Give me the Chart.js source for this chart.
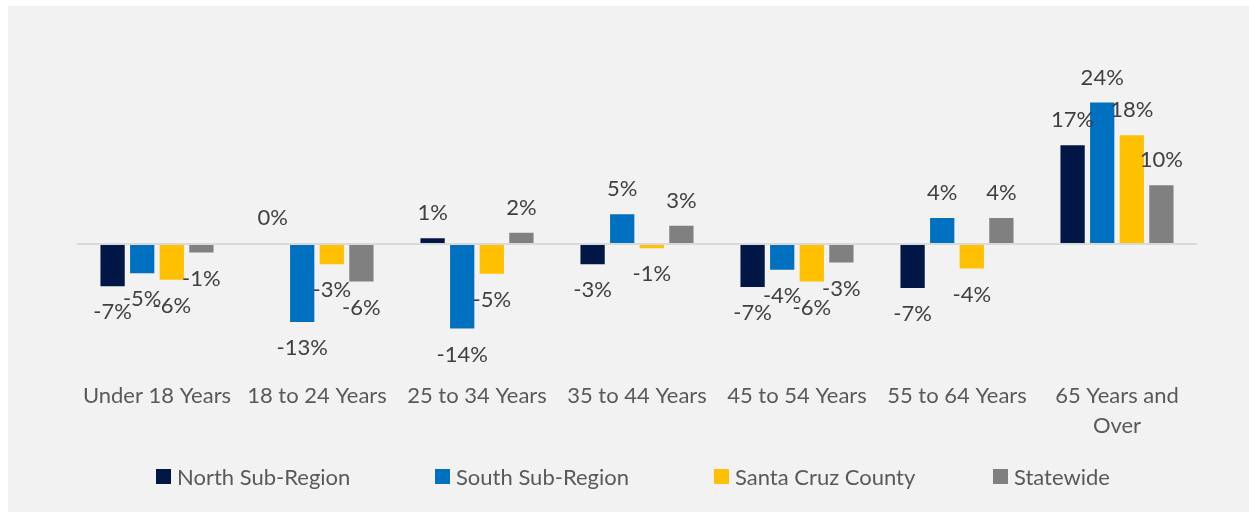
<!DOCTYPE html>
<html>
<head>
  <meta charset="UTF-8" />
  <title>Population Change by Age Group</title>
  <style>
    html, body { margin: 0; padding: 0; background: #ffffff; }
    #wrap {
      position: absolute; left: 8px; top: 6px;
      width: 1241px; height: 506px;
      background: #f2f2f2;
    }
    #chartBox { position: absolute; left: 0; top: 0; width: 1241px; height: 506px; }
    #legend {
      position: absolute; left: 148px; top: 458px;
      display: flex; margin: 0; padding: 0; list-style: none;
      font-family: Lato, 'Open Sans', sans-serif; font-size: 22px; color: #595959;
    }
    #legend li { display: flex; align-items: center; width: 279px; height: 24px; }
    #legend li span { display: inline-block; width: 15px; height: 15px; margin-right: 6px; }
  </style>
</head>
<body>
  <div id="wrap">
    <div id="chartBox"><canvas id="ageChart"></canvas></div>
    <ul id="legend"></ul>
  </div>
  <script src="https://cdn.jsdelivr.net/npm/chart.js"></script>
  <script>
    // categories and series (% change)
    const categories = ['Under 18 Years', '18 to 24 Years', '25 to 34 Years', '35 to 44 Years',
      '45 to 54 Years', '55 to 64 Years', ['65 Years and', 'Over']];
    const northSubRegion = [-7.1, 0.2, 1.0, -3.4, -7.2, -7.4, 16.6];
    const southSubRegion = [-4.9, -13.1, -14.2, 5.0, -4.3, 4.4, 23.8];
    const santaCruzCounty = [-6.0, -3.4, -5.0, -0.7, -6.3, -4.1, 18.3];
    const statewide = [-1.4, -6.3, 1.9, 3.1, -3.1, 4.4, 9.9];

    const FONT = "Lato, 'Open Sans', sans-serif";

    // draws "x%" labels just beyond each bar end
    const barLabels = {
      id: 'barLabels',
      afterDatasetsDraw(chart) {
        const ctx = chart.ctx;
        ctx.save();
        ctx.font = '22px ' + FONT;
        ctx.fillStyle = '#404040';
        ctx.textAlign = 'center';
        ctx.textBaseline = 'middle';
        chart.data.datasets.forEach((ds, i) => {
          const meta = chart.getDatasetMeta(i);
          meta.data.forEach((bar, j) => {
            const v = ds.data[j];
            const y = v >= 0 ? bar.y - 25 : bar.y + 26;
            ctx.fillText(Math.round(v) + '%', bar.x, y);
          });
        });
        ctx.restore();
      }
    };

    // legend built from the chart's own legend items, laid out wide like the original
    const htmlLegend = {
      id: 'htmlLegend',
      afterUpdate(chart) {
        const ul = document.getElementById('legend');
        ul.innerHTML = '';
        const items = chart.options.plugins.legend.labels.generateLabels(chart);
        items.forEach(item => {
          const li = document.createElement('li');
          const box = document.createElement('span');
          box.style.background = item.fillStyle;
          li.appendChild(box);
          li.appendChild(document.createTextNode(item.text));
          ul.appendChild(li);
        });
      }
    };

    new Chart(document.getElementById('ageChart'), {
      type: 'bar',
      data: {
        labels: categories,
        datasets: [
          { label: 'North Sub-Region', data: northSubRegion, backgroundColor: '#001746' },
          { label: 'South Sub-Region', data: southSubRegion, backgroundColor: '#0070c0' },
          { label: 'Santa Cruz County', data: santaCruzCounty, backgroundColor: '#ffc000' },
          { label: 'Statewide', data: statewide, backgroundColor: '#808080' }
        ]
      },
      options: {
        responsive: true,
        maintainAspectRatio: false,
        animation: false,
        datasets: { bar: { categoryPercentage: 0.74, barPercentage: 0.82 } },
        layout: { padding: { left: 0, right: 0, top: 24, bottom: 60 } },
        scales: {
          x: {
            grid: { display: false, drawTicks: false },
            border: { display: false },
            ticks: { color: '#595959', font: { family: FONT, size: 22, lineHeight: 1.36 }, padding: 11, maxRotation: 0, autoSkip: false }
          },
          y: {
            min: -21.2,
            max: 36,
            ticks: { display: false },
            border: { display: false },
            grid: {
              drawTicks: false,
              lineWidth: 2,
              color: c => c.tick.value === 0 ? '#d9d9d9' : 'rgba(0,0,0,0)'
            },
            afterBuildTicks: axis => { axis.ticks = [{ value: 0 }]; },
            afterFit: axis => { axis.width = 69; }
          },
          yRight: {
            position: 'right',
            ticks: { display: false },
            border: { display: false },
            grid: { display: false, drawTicks: false },
            afterFit: axis => { axis.width = 52; }
          }
        },
        plugins: {
          legend: { display: false },
          tooltip: { enabled: false }
        }
      },
      plugins: [barLabels, htmlLegend]
    });
  </script>
</body>
</html>
